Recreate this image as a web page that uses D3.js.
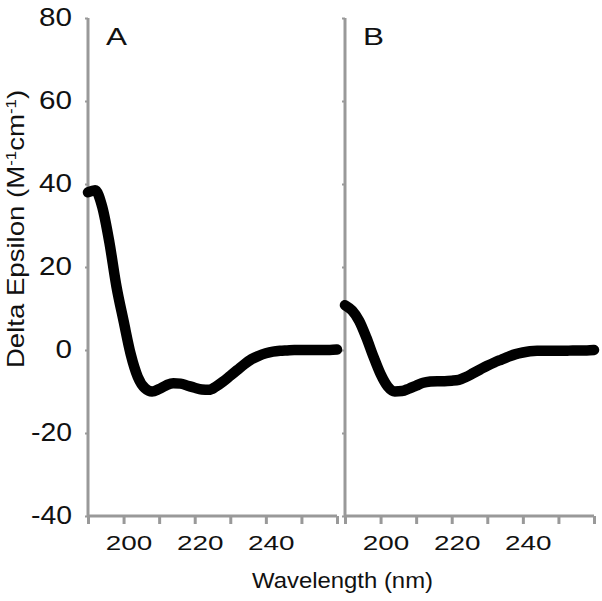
<!DOCTYPE html>
<html>
<head>
<meta charset="utf-8">
<script src="https://cdn.jsdelivr.net/npm/d3@7"></script>
<style>
  html, body { margin: 0; padding: 0; background: #fff; }
  svg text { font-family: "Liberation Sans", Arial, Helvetica, sans-serif; fill: #111; }
</style>
</head>
<body>
<svg id="chart" width="602" height="601"></svg>
<script>
// ---- Data ----
const wavelengths = [190,192,194,196,198,200,202,204,206,208,210,212,214,216,218,220,222,224,226,228,230,232,234,236,238,240,242,244,246,248,250,252,254,256,258,260];
const seriesA = [38.0,38.5,34.5,26.0,15.3,7.0,-1.0,-6.5,-9.2,-10.0,-9.4,-8.5,-8.0,-8.1,-8.6,-9.1,-9.5,-9.6,-8.8,-7.6,-6.2,-4.8,-3.4,-2.2,-1.4,-0.8,-0.4,-0.2,-0.1,0,0,0,0,0,0,0.1];
const seriesB = [10.8,9.5,7.0,3.0,-1.6,-5.8,-8.8,-10.0,-9.9,-9.3,-8.6,-7.9,-7.6,-7.5,-7.5,-7.4,-7.2,-6.5,-5.6,-4.7,-3.8,-3.0,-2.3,-1.6,-1.0,-0.6,-0.3,-0.2,-0.2,-0.2,-0.2,-0.2,-0.1,-0.1,-0.1,0];
const panelLabels = ["A", "B"];
const yTicks = [-40,-20,0,20,40,60,80];
const xTicks = [190,200,210,220,230,240,250,260];
const xTickLabels = [200,220,240];
const yTitle = "Delta Epsilon";
const xTitle = "Wavelength (nm)";

// ---- Layout ----
const svg = d3.select("#chart");
const axisColor = "#999999";
const plotTop = 18, plotBottom = 516;
const y = d3.scaleLinear().domain([-40, 80]).range([plotBottom, plotTop]);
const panels = [
  { label: panelLabels[0], data: seriesA, x0: 88, x1: 337 },
  { label: panelLabels[1], data: seriesB, x0: 345, x1: 594 }
];

function labelWidth(s, perDigit, minusW) {
  let w = 0;
  for (const c of s) w += (c === "-") ? minusW : perDigit;
  return w;
}

panels.forEach((p, i) => {
  const x = d3.scaleLinear().domain([190, 260]).range([p.x0, p.x1]);
  const g = svg.append("g");

  // x axis
  const xAxis = d3.axisBottom(x).tickValues(xTicks).tickSize(8)
    .tickFormat(d => xTickLabels.includes(d) ? String(d) : "");
  const gx = g.append("g").attr("transform", `translate(0,${plotBottom})`).call(xAxis);
  gx.attr("font-size", null).attr("font-family", null);
  gx.select(".domain").attr("stroke", axisColor).attr("stroke-width", 3).attr("d", `M${p.x0},0H${p.x1}`);
  gx.selectAll(".tick line").attr("stroke", axisColor).attr("stroke-width", 3);
  gx.selectAll(".tick text")
    .attr("font-size", 21).attr("y", 34).attr("dy", 0).attr("x", 5)
    .attr("fill", "#111")
    .each(function() {
      const t = d3.select(this).text();
      if (t) d3.select(this).attr("textLength", labelWidth(t, 15.5, 8)).attr("lengthAdjust", "spacingAndGlyphs");
    });

  // y axis line (per panel)
  const yAxis = d3.axisLeft(y).tickValues(yTicks).tickSize(3)
    .tickFormat(i === 0 ? (d => String(d)) : () => "");
  const gy = g.append("g").attr("transform", `translate(${p.x0},0)`).call(yAxis);
  gy.attr("font-size", null).attr("font-family", null);
  gy.select(".domain").attr("stroke", axisColor).attr("stroke-width", 3).attr("d", `M0,${plotTop}V${plotBottom}`);
  gy.selectAll(".tick line").attr("stroke", axisColor).attr("stroke-width", 2);
  gy.selectAll(".tick text")
    .attr("font-size", 25).attr("x", -16).attr("dy", "0.3em")
    .attr("fill", "#111")
    .each(function() {
      const t = d3.select(this).text();
      if (t) d3.select(this).attr("textLength", labelWidth(t, 16.5, 8)).attr("lengthAdjust", "spacingAndGlyphs");
    });

  // curve
  const line = d3.line()
    .x((d, k) => x(wavelengths[k]))
    .y(d => y(d))
    .curve(d3.curveMonotoneX);
  g.append("path").datum(p.data)
    .attr("d", line)
    .attr("fill", "none")
    .attr("stroke", "#000")
    .attr("stroke-width", 10.5)
    .attr("stroke-linecap", "round")
    .attr("stroke-linejoin", "round");

  // panel label
  g.append("text").attr("x", p.x0 + 18).attr("y", 45)
    .attr("font-size", 23.5)
    .attr("textLength", 21).attr("lengthAdjust", "spacingAndGlyphs")
    .text(p.label);
});

// y title
const yt = svg.append("text")
  .attr("transform", "translate(24,229) rotate(-90) scale(1.2,1)")
  .attr("text-anchor", "middle")
  .attr("font-size", 23);
yt.append("tspan").text(yTitle + " (M");
yt.append("tspan").attr("dy", -8).attr("font-size", 14).text("-1");
yt.append("tspan").attr("dy", 8).text("cm");
yt.append("tspan").attr("dy", -8).attr("font-size", 14).text("-1");
yt.append("tspan").attr("dy", 8).text(")");

// x title
svg.append("text").attr("x", 252).attr("y", 588)
  .attr("font-size", 22)
  .attr("textLength", 181).attr("lengthAdjust", "spacingAndGlyphs")
  .text(xTitle);
</script>
</body>
</html>
